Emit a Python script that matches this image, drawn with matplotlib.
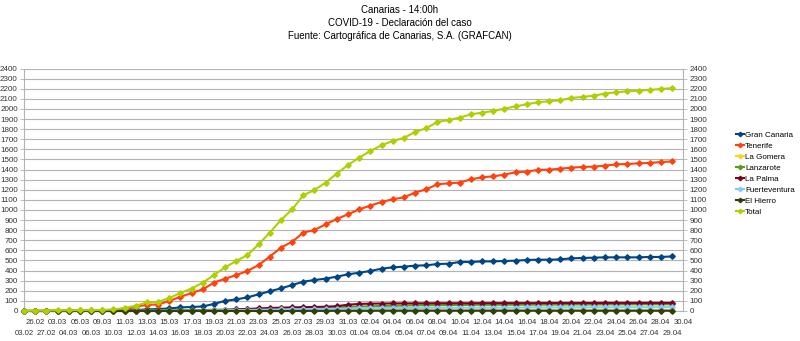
import matplotlib.pyplot as plt

plt.rcParams["font.family"] = ["Liberation Sans", "DejaVu Sans"]

dates = [
    "03.02", "26.02", "27.02", "03.03", "04.03", "05.03", "06.03", "09.03", "10.03", "11.03",
    "12.03", "13.03", "14.03", "15.03", "16.03", "17.03", "18.03", "19.03", "20.03", "21.03",
    "22.03", "23.03", "24.03", "25.03", "26.03", "27.03", "28.03", "29.03", "30.03", "31.03",
    "01.04", "02.04", "03.04", "04.04", "05.04", "06.04", "07.04", "08.04", "09.04", "10.04",
    "11.04", "12.04", "13.04", "14.04", "15.04", "16.04", "17.04", "18.04", "19.04", "20.04",
    "21.04", "22.04", "23.04", "24.04", "25.04", "26.04", "27.04", "28.04", "29.04", "30.04",
]

gran_canaria = [
    0, 0, 0, 1, 1, 2, 3, 3, 5,
    8, 10, 15, 20, 25, 35, 40, 45, 70, 100, 115, 135, 165, 195,
    224, 257, 290, 307, 320, 340, 363, 379, 396, 419, 432, 439, 449, 452, 465, 468,
    485, 485, 491, 491, 495, 498, 505, 508, 508, 511, 521, 525, 528, 531, 531, 531, 531, 535, 535, 540,
]
tenerife = [
    0, 2, 3, 4, 5, 5, 5, 6, 8,
    15, 40, 62, 64, 100, 140, 178, 214, 281,
    320, 356, 396, 455, 538, 627, 686, 776, 802, 858, 911, 957, 1006, 1043, 1079, 1106, 1125,
    1172, 1205, 1254, 1264,
    1271, 1304, 1323, 1333, 1350, 1373, 1380, 1396, 1399, 1409, 1419, 1426, 1429, 1439, 1452,
    1455, 1462, 1465, 1475, 1480,
]
la_gomera = [1] * 17 + [2, 2, 3, 3, 4, 4, 5, 5, 6, 6, 6, 6, 7, 7, 7, 7, 7, 7, 7, 7, 7, 7] + [8] * 20
lanzarote = [
    0, 0, 0, 0, 0, 0, 0, 0, 0,
    1, 2, 3, 4, 5, 6, 8, 10, 12, 14, 16, 18, 20, 23,
    25, 27, 29, 31, 33, 36, 40, 44, 47, 50, 52, 54, 56, 57, 58, 59,
    60, 60, 61, 61, 62, 62, 62, 63, 63, 63, 64, 64, 64, 65, 65, 65, 66, 66, 66, 66,
]
la_palma = [
    0, 0, 0, 0, 0, 0, 0, 0, 0, 0, 0, 0, 0,
    1, 2, 3, 4, 6, 10, 15, 20, 25, 30,
    33, 36, 38, 40, 42, 48, 62, 70, 73, 74, 75, 75, 76, 76, 77, 77,
    77, 77, 78, 78, 78, 78, 78, 78, 79, 79, 79, 79, 79, 80, 80, 80, 80, 80, 80, 80,
]
fuerteventura = [
    0, 0, 0, 0, 0, 0, 0, 0, 0,
    0, 1, 1, 2, 2, 3, 3, 4, 5, 7, 8, 10, 12, 14,
    15, 17, 18, 20, 21, 22, 24, 25, 26, 28, 29, 30, 30, 31, 32, 32,
    33, 33, 33, 34, 34, 34, 35, 35, 35, 35, 36, 36, 36, 36, 37, 37, 37, 37, 38, 38,
]
el_hierro = [0] * 25 + [1, 1, 1, 2, 2, 2, 2, 3, 3, 3, 3, 3, 3, 3] + [3] * 20
total = [
    1, 3, 4, 6, 7, 8, 9, 10, 15,
    30, 52, 85, 90, 128, 178, 222,
    281, 356, 432, 495, 554, 660, 776, 901, 1006, 1145, 1198, 1271, 1360, 1445, 1518, 1584,
    1640, 1683, 1713, 1772, 1809, 1871, 1891,
    1914, 1947, 1963, 1980, 2003, 2026, 2046, 2066, 2076, 2086, 2109, 2119, 2132, 2152, 2165,
    2175, 2181, 2188, 2198, 2205,
]

series = [
    ("Gran Canaria", gran_canaria, "#004586"),
    ("Tenerife", tenerife, "#ff420e"),
    ("La Gomera", la_gomera, "#ffd320"),
    ("Lanzarote", lanzarote, "#579d1c"),
    ("La Palma", la_palma, "#7e0021"),
    ("Fuerteventura", fuerteventura, "#83caff"),
    ("El Hierro", el_hierro, "#314004"),
    ("Total", total, "#aecf00"),
]

fig = plt.figure(figsize=(8, 3.41), dpi=100)
ax = fig.add_axes([0.03, 0.088, 0.824, 0.711])

for name, values, color in series:
    ax.plot(range(len(values)), values, color=color, lw=1.5, marker="D", ms=2.8,
            label=name, clip_on=False, zorder=3)

ax.set_xlim(0, len(dates) - 1)
ax.set_ylim(0, 2400)
ax.set_yticks(range(0, 2401, 100))
ax.set_xticks(range(len(dates)))
ax.set_xticklabels(dates, fontsize=5.6)
ax.tick_params(axis="x", length=0, colors="#333333")
# staggered labels: odd on first row, even on second
for i, tick in enumerate(ax.xaxis.get_major_ticks()):
    tick.set_pad(6 if i % 2 else 13.5)
ax.tick_params(axis="y", labelsize=5.8, length=3, width=0.6, color="#b3b3b3",
               labelcolor="#333333", right=True, labelright=True, pad=1.5)
ax.grid(axis="y", color="#b3b3b3", lw=0.8)
ax.set_axisbelow(True)
for side in ["left", "right", "bottom"]:
    ax.spines[side].set_color("#b3b3b3")
    ax.spines[side].set_linewidth(0.8)
ax.spines["top"].set_visible(False)

fig.text(0.5, 0.97, "Canarias - 14:00h", ha="center", va="center", fontsize=7)
fig.text(0.5, 0.932, "COVID-19 - Declaración del caso", ha="center", va="center", fontsize=7)
fig.text(0.5, 0.894, "Fuente: Cartográfica de Canarias, S.A. (GRAFCAN)", ha="center",
         va="center", fontsize=7)

fig.legend(loc="upper left", bbox_to_anchor=(0.92, 0.615), frameon=False, fontsize=5.8,
           handlelength=1.0, handletextpad=0.15, labelspacing=0.42, markerscale=0.8,
           borderaxespad=0, borderpad=0)

fig.savefig("out.png", dpi=100)
